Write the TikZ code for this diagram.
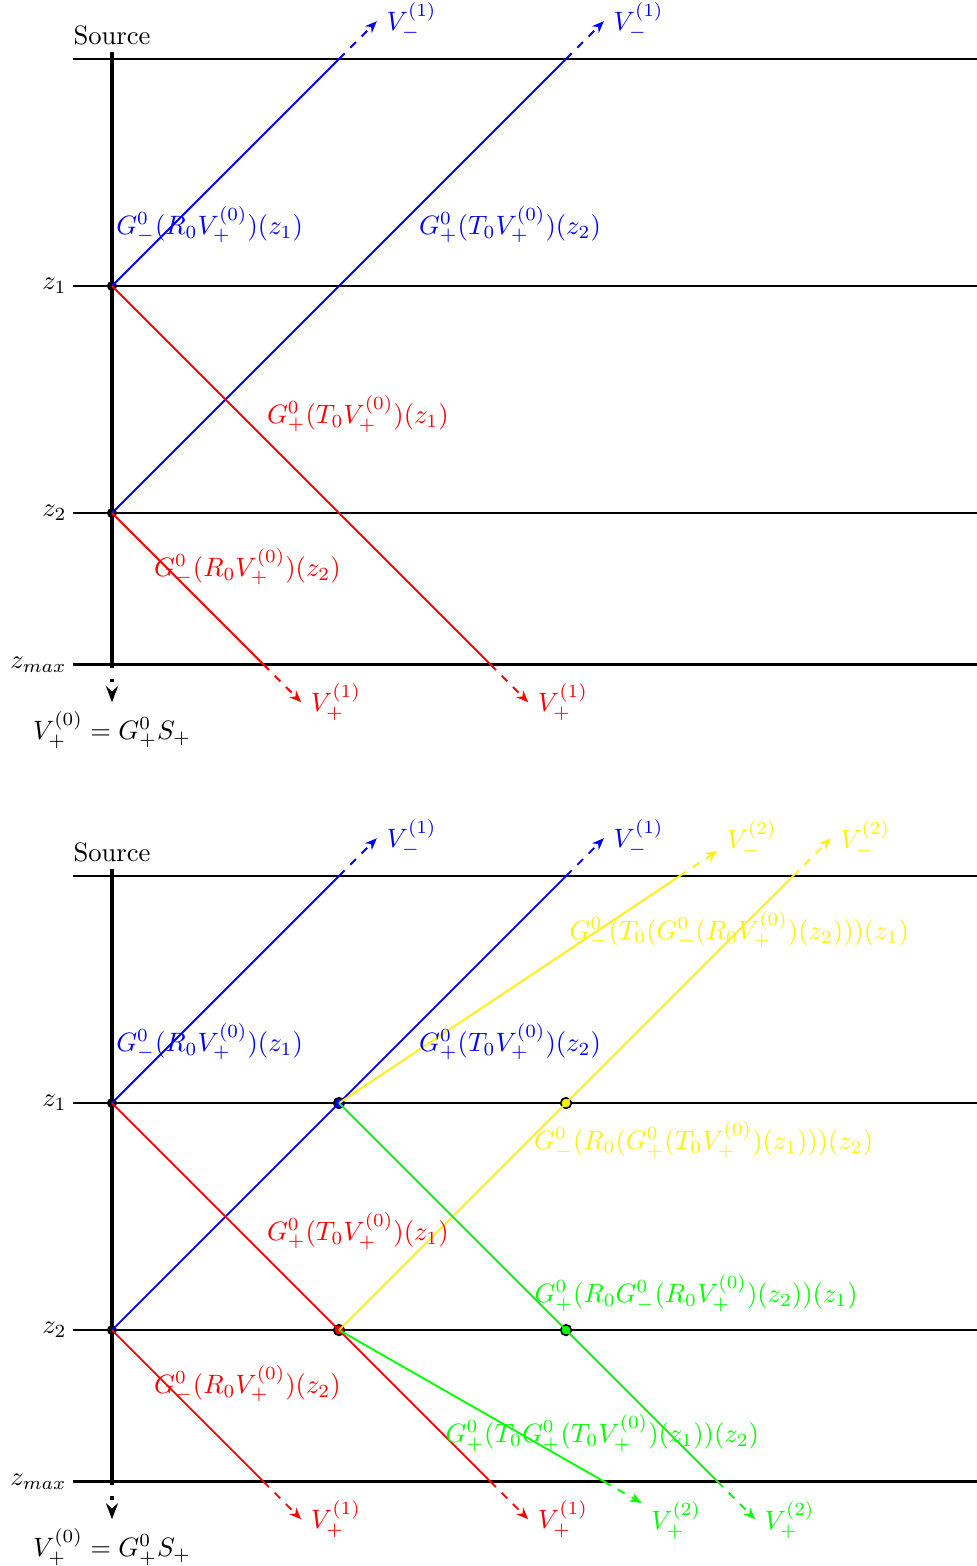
\documentclass[tikz,border=0pt]{standalone}
\usetikzlibrary{arrows.meta}
\begin{document}
\begin{tikzpicture}[
  hline/.style={line width=0.9pt},
  srcline/.style={line width=1.4pt},
  ray/.style={line width=0.7pt},
  tail/.style={ray,dashed,-{Stealth[length=4.5pt,width=3.6pt]}},
  dotb/.style={circle,fill=black,inner sep=0pt,minimum size=3.8pt},
  dotc/.style={circle,draw=black,line width=0.6pt,inner sep=0pt,minimum size=4pt,fill=#1},
  zlab/.style={left,inner sep=2.2pt}
]
\useasboundingbox (-1.480,0.780) rectangle (11.431,-19.915);
\foreach \d/\o in {a/0,b/-10.797}{
\begin{scope}[yshift=\o cm]
  \coordinate (\d-sl) at (-0.515,0);  \coordinate (\d-sr) at (11.431,0);
  \coordinate (\d-1l) at (-0.515,-3); \coordinate (\d-1r) at (11.431,-3);
  \coordinate (\d-2l) at (-0.515,-6); \coordinate (\d-2r) at (11.431,-6);
  \coordinate (\d-ml) at (-0.515,-8); \coordinate (\d-mr) at (11.431,-8);
  \draw[hline] (\d-sl) -- (\d-sr);
  \draw[hline] (\d-1l) -- (\d-1r);
  \draw[hline] (\d-2l) -- (\d-2r);
  \draw[hline] (\d-ml) -- (\d-mr);
  \node[anchor=base west,inner sep=0pt] (\d-src) at (-0.515,0.198) {Source};
  \node[zlab] (\d-z1) at (\d-1l) {$z_1$};
  \node[zlab] (\d-z2) at (\d-2l) {$z_2$};
  \node[zlab] (\d-zm) at (\d-ml) {$z_{max}$};
  \coordinate (\d-top) at (0,0.09);
  \coordinate (\d-bot) at (0,-8);
  \coordinate (\d-tip) at (0,-8.5);
  \draw[srcline] (\d-top) -- (\d-bot);
  \draw[srcline,loosely dotted,-{Stealth[length=6pt,width=4.5pt]}] (\d-bot) -- (\d-tip);
  \node[below] (\d-v0) at (\d-tip) {$V^{(0)}_+=G^0_+S_+$};
  \node[dotb] (\d-p1) at (0,-3) {};
  \node[dotb] (\d-p2) at (0,-6) {};
  \coordinate (\d-b1) at (3,0);   \coordinate (\d-b1t) at (3.5,0.5);
  \coordinate (\d-b2) at (6,0);   \coordinate (\d-b2t) at (6.5,0.5);
  \coordinate (\d-r1) at (5,-8);  \coordinate (\d-r1t) at (5.5,-8.5);
  \coordinate (\d-r2) at (2,-8);  \coordinate (\d-r2t) at (2.5,-8.5);
\end{scope}
}
% colored junction dots of the lower picture
\begin{scope}[yshift=-10.797cm]
  \node[dotc=blue]   (b-q1) at (3,-3) {};
  \node[dotc=yellow] (b-q2) at (6,-3) {};
  \node[dotc=red]    (b-q3) at (3,-6) {};
  \node[dotc=green]  (b-q4) at (6,-6) {};
  \coordinate (b-y1) at (7.5,0);   \coordinate (b-y1t) at (8,0.3333);
  \coordinate (b-y2) at (9,0);     \coordinate (b-y2t) at (9.5,0.5);
  \coordinate (b-g1) at (8,-8);    \coordinate (b-g1t) at (8.5,-8.5);
  \coordinate (b-g2) at (6.5,-8);  \coordinate (b-g2t) at (7,-8.2857);
\end{scope}
\foreach \d in {a,b}{
  \draw[ray,blue] (\d-p1.center) -- (\d-b1);
  \draw[tail,blue] (\d-b1) -- (\d-b1t) node[right] (\d-vb1) {$V^{(1)}_-$};
  \draw[ray,blue] (\d-p2.center) -- (\d-b2);
  \draw[tail,blue] (\d-b2) -- (\d-b2t) node[right] (\d-vb2) {$V^{(1)}_-$};
  \draw[ray,red] (\d-p1.center) -- (\d-r1);
  \draw[tail,red] (\d-r1) -- (\d-r1t) node[right] (\d-vr1) {$V^{(1)}_+$};
  \draw[ray,red] (\d-p2.center) -- (\d-r2);
  \draw[tail,red] (\d-r2) -- (\d-r2t) node[right] (\d-vr2) {$V^{(1)}_+$};
}
% second-order rays
\draw[ray,yellow] (b-q1.center) -- (b-y1);
\draw[tail,yellow] (b-y1) -- (b-y1t);
\draw[ray,yellow] (b-q3.center) -- (b-q2.center) -- (b-y2);
\draw[tail,yellow] (b-y2) -- (b-y2t);
\draw[ray,green] (b-q1.center) -- (b-q4.center) -- (b-g1);
\draw[tail,green] (b-g1) -- (b-g1t);
\draw[ray,green] (b-q3.center) -- (b-g2);
\draw[tail,green] (b-g2) -- (b-g2t);
% labels
\foreach \d/\o in {a/0,b/-10.797}{
\begin{scope}[yshift=\o cm]
  \node[blue] (\d-lb1) at (1.29,-2.19) {$G^0_-(R_0V^{(0)}_+)(z_1)$};
  \node[blue] (\d-lb2) at (5.26,-2.19) {$G^0_+(T_0V^{(0)}_+)(z_2)$};
  \node[red]  (\d-lr1) at (3.25,-4.69) {$G^0_+(T_0V^{(0)}_+)(z_1)$};
  \node[red]  (\d-lr2) at (1.79,-6.71) {$G^0_-(R_0V^{(0)}_+)(z_2)$};
\end{scope}
}
\begin{scope}[yshift=-10.797cm]
  \node[yellow,anchor=west] (b-vy1) at (8,0.49) {$V^{(2)}_-$};
  \node[yellow,anchor=west] (b-vy2) at (9.5,0.49) {$V^{(2)}_-$};
  \node[green,anchor=west] (b-vg2) at (7,-8.51) {$V^{(2)}_+$};
  \node[green,anchor=west] (b-vg1) at (8.5,-8.51) {$V^{(2)}_+$};
  \node[yellow] (b-ly1) at (8.29,-0.71) {$G^0_-(T_0(G^0_-(R_0V^{(0)}_+)(z_2)))(z_1)$};
  \node[yellow] (b-ly2) at (7.82,-3.49) {$G^0_-(R_0(G^0_+(T_0V^{(0)}_+)(z_1)))(z_2)$};
  \node[green]  (b-lg1) at (7.72,-5.51) {$G^0_+(R_0G^0_-(R_0V^{(0)}_+)(z_2))(z_1)$};
  \node[green]  (b-lg2) at (6.48,-7.36) {$G^0_+(T_0G^0_+(T_0V^{(0)}_+)(z_1))(z_2)$};
\end{scope}
\end{tikzpicture}
\end{document}
